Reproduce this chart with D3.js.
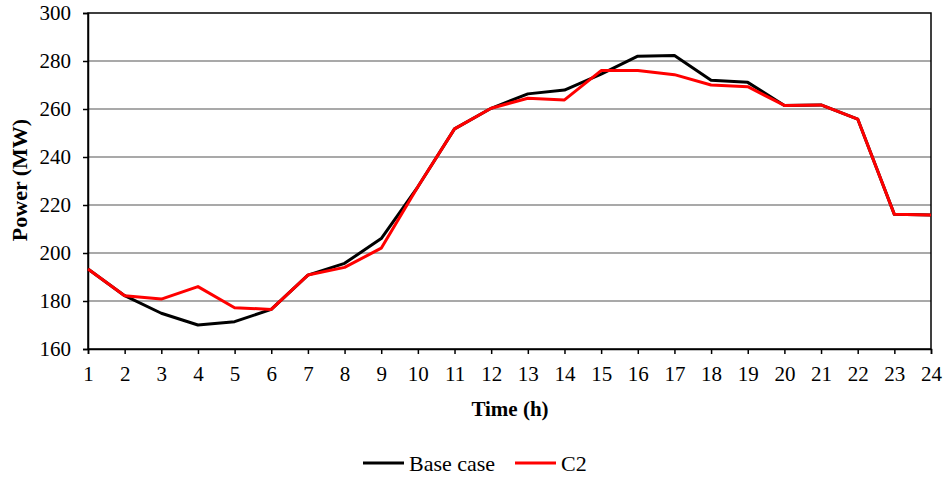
<!DOCTYPE html>
<html>
<head>
<meta charset="utf-8">
<script src="https://cdn.jsdelivr.net/npm/d3@7"></script>
<style>
  body { margin: 0; background: #fff; }
  text { font-family: "Liberation Serif", "Times New Roman", serif; }
</style>
</head>
<body>
<script>
var hours = d3.range(1, 25);
var baseCase = [193.3, 182.2, 174.9, 170.0, 171.4, 176.5, 190.8, 195.7, 206.0, 227.6, 251.7, 260.3,
  266.3, 267.9, 274.5, 282.0, 282.3, 272.0, 271.1, 261.5, 261.7, 255.8, 216.1, 215.8];
var c2 = [193.3, 182.2, 180.8, 186.0, 177.2, 176.5, 190.8, 194.0, 202.0, 227.6, 251.7, 260.3,
  264.5, 263.8, 276.0, 276.0, 274.3, 270.0, 269.3, 261.5, 261.7, 255.8, 216.1, 215.8];
var yTicks = [160, 180, 200, 220, 240, 260, 280, 300];

var series = [
  { name: "Base case", values: baseCase, color: "#000000" },
  { name: "C2", values: c2, color: "#ff0000" }
];

var width = 945, height = 477;
var plotLeft = 88, plotRight = 931, plotTop = 13, plotBottom = 349;

var svg = d3.select("body").append("svg")
  .attr("width", width)
  .attr("height", height);

var x = d3.scaleLinear().domain([1, 24]).range([plotLeft, plotRight]);
var y = d3.scaleLinear().domain([160, 300]).range([plotBottom, plotTop]);

// gridlines
svg.append("g")
  .selectAll("line")
  .data(yTicks.slice(1, -1))
  .enter()
  .append("line")
  .attr("x1", plotLeft)
  .attr("x2", plotRight)
  .attr("y1", function(d) { return y(d); })
  .attr("y2", function(d) { return y(d); })
  .attr("stroke", "#8c8c8c")
  .attr("stroke-width", 1.5);

// frame
svg.append("rect")
  .attr("x", plotLeft)
  .attr("y", plotTop)
  .attr("width", plotRight - plotLeft)
  .attr("height", plotBottom - plotTop)
  .attr("fill", "none")
  .attr("stroke", "#000")
  .attr("stroke-width", 1.5);

var yAxis = svg.append("g")
  .attr("transform", "translate(" + plotLeft + ",0)")
  .call(d3.axisLeft(y).tickValues(yTicks).tickSize(5).tickPadding(12));

var xAxis = svg.append("g")
  .attr("transform", "translate(0," + plotBottom + ")")
  .call(d3.axisBottom(x).tickValues(hours).tickSize(5).tickPadding(12));

[yAxis, xAxis].forEach(function(a) {
  a.select(".domain").attr("stroke", "#000").attr("stroke-width", 1.5);
  a.selectAll(".tick line").attr("stroke", "#000").attr("stroke-width", 1.5);
  a.selectAll(".tick text")
    .attr("fill", "#000")
    .attr("font-size", 21)
    .attr("font-family", "Liberation Serif");
});

var line = d3.line()
  .x(function(d, i) { return x(hours[i]); })
  .y(function(d) { return y(d); });

svg.append("g")
  .selectAll("path")
  .data(series)
  .enter()
  .append("path")
  .attr("d", function(d) { return line(d.values); })
  .attr("fill", "none")
  .attr("stroke", function(d) { return d.color; })
  .attr("stroke-width", 3)
  .attr("stroke-linejoin", "round");

// axis titles
svg.append("text")
  .attr("x", 510)
  .attr("y", 416)
  .attr("text-anchor", "middle")
  .attr("font-size", 21)
  .attr("font-weight", "bold")
  .text("Time (h)");

svg.append("text")
  .attr("transform", "translate(27,180) rotate(-90)")
  .attr("text-anchor", "middle")
  .attr("font-size", 22)
  .attr("font-weight", "bold")
  .text("Power (MW)");

// legend
var legendData = [
  { name: "Base case", color: "#000", x: 363 },
  { name: "C2", color: "#ff0000", x: 515 }
];
var legend = svg.append("g")
  .selectAll("g")
  .data(legendData)
  .enter()
  .append("g")
  .attr("transform", function(d) { return "translate(" + d.x + ",463)"; });
legend.append("line")
  .attr("x1", 0)
  .attr("x2", 41)
  .attr("stroke", function(d) { return d.color; })
  .attr("stroke-width", 3);
legend.append("text")
  .attr("x", 46)
  .attr("y", 8)
  .attr("font-size", 22)
  .text(function(d) { return d.name; });
</script>
</body>
</html>
